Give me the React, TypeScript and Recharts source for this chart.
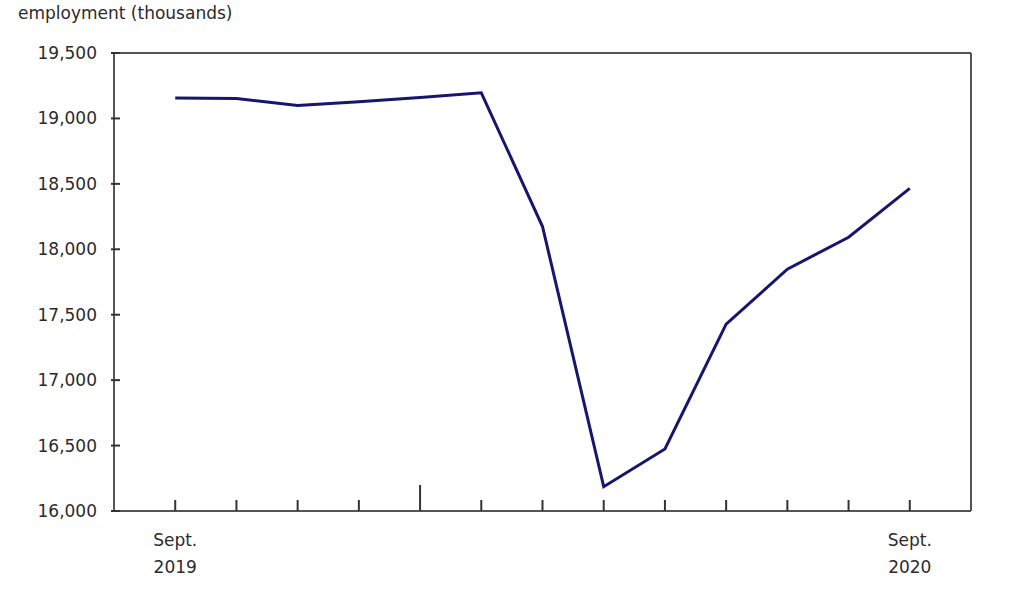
import React from 'react';
import { LineChart, Line, XAxis, YAxis, ReferenceLine, Label } from 'recharts';

const monthIndex = [0, 1, 2, 3, 4, 5, 6, 7, 8, 9, 10, 11, 12];
const monthNames = ['Sept.', 'Oct.', 'Nov.', 'Dec.', 'Jan.', 'Feb.', 'Mar.', 'Apr.', 'May', 'June', 'July', 'Aug.', 'Sept.'];
const employment = [19157, 19152, 19098, 19128, 19160, 19196, 18174, 16186, 16474, 17428, 17848, 18092, 18466];
const yTicks = [16000, 16500, 17000, 17500, 18000, 18500, 19000, 19500];
const xLabels: Record<number, [string, string]> = { 0: ['Sept.', '2019'], 12: ['Sept.', '2020'] };
const yearBoundaryIndex = 4;

const data = monthIndex.map((i) => ({ i, month: monthNames[i], value: employment[i] }));

const FONT = '"DejaVu Sans", Verdana, sans-serif';
const TEXT = '#2b2b2b';

const XTick = (props: any) => {
  const { x, y, payload } = props;
  const i = payload.value;
  const len = i === yearBoundaryIndex ? 26 : 11;
  const lab = xLabels[i];
  return (
    <g>
      <line x1={x} x2={x} y1={y} y2={y - len} stroke="#333" strokeWidth={2} />
      {lab && (
        <text x={x} y={y + 35} textAnchor="middle" fontFamily={FONT} fontSize={17} fill={TEXT}>
          {lab[0]}
        </text>
      )}
      {lab && (
        <text x={x} y={y + 62} textAnchor="middle" fontFamily={FONT} fontSize={17} fill={TEXT}>
          {lab[1]}
        </text>
      )}
    </g>
  );
};

const YTick = (props: any) => {
  const { x, y, payload } = props;
  return (
    <g>
      <line x1={x - 3} x2={x + 6} y1={y} y2={y} stroke="#333" strokeWidth={2} />
      <text x={x - 17} y={y + 6} textAnchor="end" fontFamily={FONT} fontSize={17} fill={TEXT}>
        {payload.value.toLocaleString('en-US')}
      </text>
    </g>
  );
};

export default function App() {
  return (
    <div style={{ position: 'absolute', left: 0, top: 0, width: 1024, height: 591, background: '#fff' }}>
      <LineChart width={1024} height={591} data={data} margin={{ top: 53, right: 53, bottom: 20, left: 0 }}>
        <XAxis
          dataKey="i"
          type="number"
          domain={[-1, 13]}
          ticks={monthIndex}
          interval={0}
          height={60}
          tickSize={0}
          tickMargin={0}
          tickLine={false}
          axisLine={{ stroke: '#555', strokeWidth: 2 }}
          tick={<XTick />}
        />
        <YAxis
          type="number"
          domain={[16000, 19500]}
          ticks={yTicks}
          interval={0}
          width={114}
          tickSize={0}
          tickMargin={0}
          tickLine={false}
          axisLine={{ stroke: '#555', strokeWidth: 2 }}
          tick={<YTick />}
        >
          <Label
            content={() => (
              <text x={18} y={19} fontFamily={FONT} fontSize={17} fill={TEXT}>
                employment (thousands)
              </text>
            )}
          />
        </YAxis>
        <ReferenceLine y={19500} stroke="#555" strokeWidth={2} />
        <ReferenceLine x={13} stroke="#555" strokeWidth={2} />
        <Line
          dataKey="value"
          type="linear"
          stroke="#16166e"
          strokeWidth={3}
          dot={false}
          activeDot={false}
          isAnimationActive={false}
        />
      </LineChart>
    </div>
  );
}
